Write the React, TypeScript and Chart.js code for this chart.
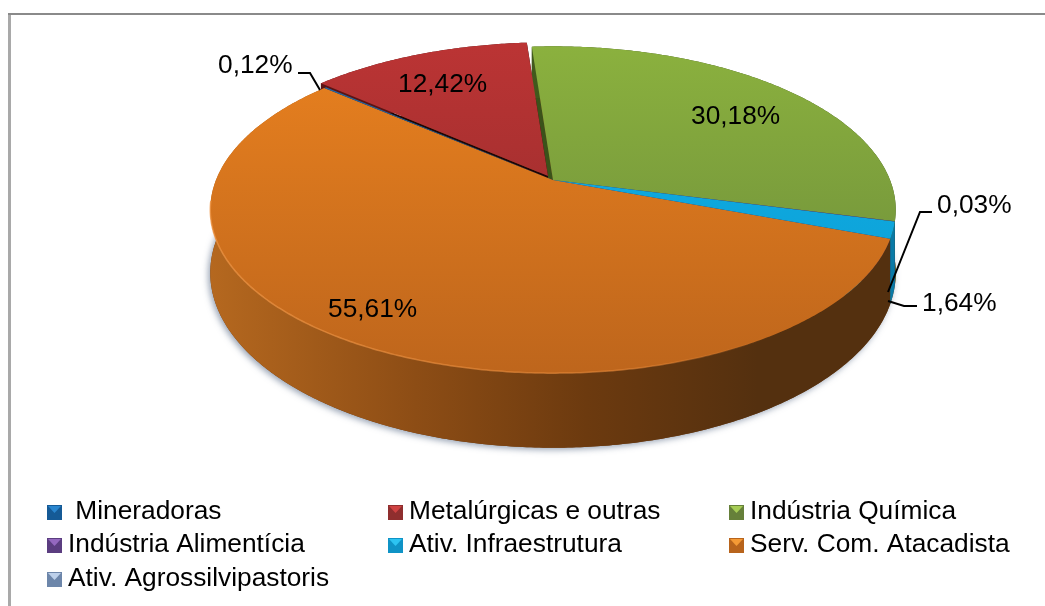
import React, { useEffect, useRef } from "react";
import { Chart, registerables } from "chart.js";

Chart.register(...registerables);

const categories = [
  " Mineradoras",
  "Metalúrgicas e outras",
  "Indústria Química",
  "Indústria Alimentícia",
  "Ativ. Infraestrutura",
  "Serv. Com. Atacadista",
  "Ativ. Agrossilvipastoris",
];
const shares = [0.12, 12.42, 30.18, 0.03, 1.64, 55.61, 0];
const shareLabels = ["0,12%", "12,42%", "30,18%", "0,03%", "1,64%", "55,61%", ""];
const topLight = ["#1f6fb0", "#bb3434", "#8bb13e", "#7a4fa3", "#10b0ea", "#e9811f", "#a8bcd8"];
const topDark = ["#174f80", "#8c2a2a", "#69883a", "#553571", "#0c9ccf", "#bd651c", "#6f86a6"];
const wallLight = ["#123a60", "#5a1414", "#4d6a22", "#3a2450", "#0a86b4", "#b5681f", "#566a86"];
const wallDark = ["#123a60", "#3a0c0c", "#3b521a", "#3a2450", "#0a7aa6", "#54300f", "#566a86"];
const swatchLight = ["#2a86cf", "#cf4242", "#a6cc55", "#9468bf", "#2cc4f2", "#f59a35", "#bdd0ea"];
const swatchDark = ["#155a96", "#8f2e2e", "#66803a", "#5b3d80", "#0f93c6", "#b8641c", "#6d86aa"];

const CX = 553;
const CY = 180;
const R = 337;
const RB = 158;
const P = 0.182;
const DEPTH = 61;

// perspective projection of the pie's plane onto the page
function project(angle: number, r: number, drop: number) {
  const u = Math.cos(angle) * r;
  const v = Math.sin(angle) * r;
  const w = 1 - P * v;
  return { x: CX + (R * u) / w, y: CY + (RB * v + drop) / w };
}

function rimPoints(a0: number, a1: number, drop: number) {
  const pts: { x: number; y: number }[] = [];
  const n = Math.max(2, Math.ceil(Math.abs(a1 - a0) / 0.01));
  for (let i = 0; i <= n; i++) pts.push(project(a0 + ((a1 - a0) * i) / n, 1, drop));
  return pts;
}

function fillPath(ctx: CanvasRenderingContext2D, pts: { x: number; y: number }[], style: any, dx = 0, dy = 0) {
  ctx.beginPath();
  pts.forEach((p, i) => (i ? ctx.lineTo(p.x + dx, p.y + dy) : ctx.moveTo(p.x + dx, p.y + dy)));
  ctx.closePath();
  ctx.fillStyle = style;
  ctx.fill();
}

const EXPLODE: Record<number, [number, number]> = { 1: [-5, -4] };
const DRAW_ORDER = [5, 2, 4, 3, 0, 1];

const LEGEND_COLS = [47, 388, 729];
const LEGEND_ROWS = [505, 538, 572];

const TEXT_SPOTS: Record<number, [number, number]> = {
  0: [218, 73],
  1: [398, 92],
  2: [691, 124],
  3: [937, 213],
  4: [922, 311],
  5: [328, 317],
};
const LEADERS = [
  [[298, 73], [310, 73], [320, 90]],
  [[932, 212], [920, 212], [888, 292]],
  [[917, 306], [904, 306], [888, 301]],
];

const pie3d = {
  id: "pie3d",
  beforeDatasetsDraw(chart: any) {
    const ctx: CanvasRenderingContext2D = chart.ctx;
    const arcs = chart.getDatasetMeta(0).data;
    ctx.save();
    ctx.fillStyle = "#fff";
    ctx.fillRect(0, 0, chart.width, chart.height);
    ctx.fillStyle = "#a9a9a9";
    ctx.fillRect(8, 13, 3, chart.height - 13);
    ctx.fillStyle = "#8a8a8a";
    ctx.fillRect(8, 13, chart.width - 8, 2);

    const wallGrad = (i: number) => {
      const g = ctx.createLinearGradient(210, 0, 895, 0);
      g.addColorStop(0, wallLight[i]);
      g.addColorStop(0.3, i === 5 ? "#8d4d15" : wallLight[i]);
      g.addColorStop(0.55, i === 5 ? "#6c3a0f" : wallDark[i]);
      g.addColorStop(0.8, wallDark[i]);
      g.addColorStop(1, wallDark[i]);
      return g;
    };
    const topGrad = (i: number) => {
      const g = ctx.createLinearGradient(0, 45, 0, 380);
      g.addColorStop(0, topLight[i]);
      g.addColorStop(1, topDark[i]);
      return g;
    };
    const live = DRAW_ORDER.filter((i) => arcs[i] && shares[i] > 0);

    // soft shadow under the whole cake
    ctx.save();
    ctx.shadowColor = "rgba(70,90,120,0.55)";
    ctx.shadowBlur = 6;
    ctx.shadowOffsetX = -2;
    ctx.shadowOffsetY = 2;
    const first = arcs[live[0]];
    fillPath(ctx, rimPoints(first.startAngle, first.startAngle + Math.PI * 2, DEPTH), "#6c3a0f");
    ctx.restore();

    // radial faces first, then the round wall, and the tops cover what faces away
    live.forEach((i) => {
      const el = arcs[i];
      const [dx, dy] = EXPLODE[i] || [0, 0];
      const top = rimPoints(el.startAngle, el.endAngle, 0);
      const bottom = rimPoints(el.startAngle, el.endAngle, DEPTH);
      const apex = project(0, 0, 0);
      const apexLow = project(0, 0, DEPTH);
      const face = i === 1 ? "#1d0606" : wallDark[i];
      fillPath(ctx, [apex, top[0], bottom[0], apexLow], face, dx, dy);
      fillPath(ctx, [apex, top[top.length - 1], bottom[bottom.length - 1], apexLow], face, dx, dy);
    });
    live.forEach((i) => {
      const el = arcs[i];
      const [dx, dy] = EXPLODE[i] || [0, 0];
      const top = rimPoints(el.startAngle, el.endAngle, 0);
      const bottom = rimPoints(el.startAngle, el.endAngle, DEPTH);
      fillPath(ctx, [...top, ...bottom.slice().reverse()], wallGrad(i), dx, dy);
    });
    live.forEach((i) => {
      const el = arcs[i];
      const [dx, dy] = EXPLODE[i] || [0, 0];
      fillPath(ctx, [project(0, 0, 0), ...rimPoints(el.startAngle, el.endAngle, 0)], topGrad(i), dx, dy);
    });

    // lighter edge where the orange top meets its wall
    const orange = arcs[5];
    const edge = ctx.createLinearGradient(210, 0, 780, 0);
    edge.addColorStop(0, "rgba(240,150,70,0.75)");
    edge.addColorStop(0.75, "rgba(235,140,60,0.55)");
    edge.addColorStop(1, "rgba(235,140,60,0)");
    ctx.strokeStyle = edge;
    ctx.lineWidth = 1.5;
    ctx.beginPath();
    rimPoints(orange.startAngle, orange.endAngle, 0)
      .filter((p) => p.y > 200)
      .forEach((p, k) => (k ? ctx.lineTo(p.x, p.y) : ctx.moveTo(p.x, p.y)));
    ctx.stroke();

    // leader lines
    ctx.strokeStyle = "#000";
    ctx.lineWidth = 2;
    ctx.lineJoin = "miter";
    LEADERS.forEach((line) => {
      ctx.beginPath();
      line.forEach((p, k) => (k ? ctx.lineTo(p[0], p[1]) : ctx.moveTo(p[0], p[1])));
      ctx.stroke();
    });

    // value labels
    ctx.font = '26.3px "Liberation Sans", Arial, sans-serif';
    ctx.fillStyle = "#000";
    ctx.textAlign = "left";
    ctx.textBaseline = "alphabetic";
    shareLabels.forEach((t, i) => {
      if (t) ctx.fillText(t, TEXT_SPOTS[i][0], TEXT_SPOTS[i][1]);
    });

    // legend, three columns
    categories.forEach((name, i) => {
      const col = i % 3;
      const row = Math.floor(i / 3);
      const x = LEGEND_COLS[col];
      const y = LEGEND_ROWS[row];
      const s = 15;
      const g = ctx.createLinearGradient(0, y, 0, y + s);
      g.addColorStop(0, swatchDark[i]);
      g.addColorStop(1, swatchDark[i]);
      ctx.fillStyle = g;
      ctx.fillRect(x, y, s, s);
      ctx.fillStyle = swatchLight[i];
      ctx.beginPath();
      ctx.moveTo(x + 1, y + 1);
      ctx.lineTo(x + s - 1, y + 1);
      ctx.lineTo(x + s / 2, y + 8);
      ctx.closePath();
      ctx.fill();
      ctx.fillStyle = "#000";
      ctx.fillText(name, x + 21, y + 14);
    });
    ctx.restore();
    return false;
  },
};

export default function App() {
  const ref = useRef<HTMLCanvasElement>(null);
  useEffect(() => {
    if (!ref.current) return;
    const chart = new Chart(ref.current, {
      type: "pie",
      data: {
        labels: categories,
        datasets: [{ data: shares, backgroundColor: topLight, borderWidth: 0 }],
      },
      options: {
        responsive: false,
        animation: false,
        rotation: -49.4,
        plugins: { legend: { display: false }, tooltip: { enabled: false } },
      },
      plugins: [pie3d],
    } as any);
    return () => chart.destroy();
  }, []);
  return (
    <div style={{ position: "fixed", left: 0, top: 0, width: 1045, height: 606, background: "#fff" }}>
      <canvas ref={ref} width={1045} height={606} style={{ display: "block" }} />
    </div>
  );
}
